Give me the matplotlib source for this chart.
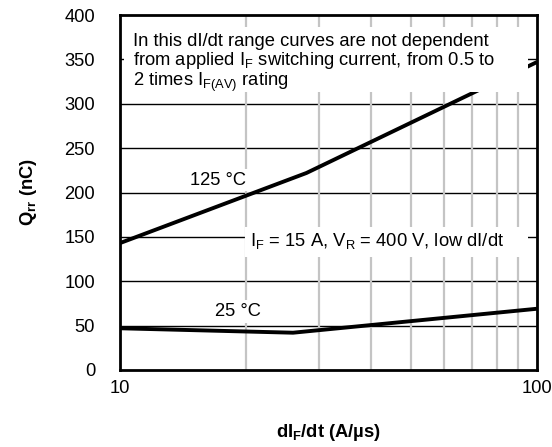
import matplotlib
matplotlib.use('Agg')
import matplotlib.pyplot as plt
from matplotlib.patches import Rectangle

plt.rcParams['font.family'] = ['Liberation Sans', 'DejaVu Sans']

# данные кривых Qrr(dI/dt)
x_125 = [10, 28, 100]
y_125 = [143, 222, 347]
x_25 = [10, 26, 100]
y_25 = [47, 42, 69]

y_ticks = [0, 50, 100, 150, 200, 250, 300, 350, 400]
x_grid = [20, 30, 40, 50, 60, 70, 80, 90]

fig = plt.figure(figsize=(5.52, 4.47), dpi=100)
ax = fig.add_axes([0.2174, 0.1723, 0.7554, 0.7941])

ax.set_xscale('log')
ax.set_xlim(10, 100)
ax.set_ylim(0, 400)

# сетка: горизонтальные чёрные, вертикальные серые
for v in y_ticks[1:-1]:
    ax.axhline(v, color='black', lw=1.0, zorder=1)
for v in x_grid:
    ax.axvline(v, color='#c4c4c4', lw=1.6, zorder=1)

ax.plot(x_125, y_125, color='black', lw=2.8, zorder=3, solid_capstyle='butt')
ax.plot(x_25, y_25, color='black', lw=2.8, zorder=3, solid_capstyle='butt')

# белые подложки под надписями
ax.add_patch(Rectangle((0.01, 0.783), 0.968, 0.183, transform=ax.transAxes,
                       facecolor='white', edgecolor='none', zorder=4))
ax.add_patch(Rectangle((0.30, 0.318), 0.678, 0.085, transform=ax.transAxes,
                       facecolor='white', edgecolor='none', zorder=4))

fs = 13.2
ax.text(0.031, 0.95,
        'In this dI/dt range curves are not dependent\n'
        'from applied I$_\\mathregular{F}$ switching current, from 0.5 to\n'
        '2 times I$_\\mathregular{F(AV)}$ rating',
        transform=ax.transAxes, ha='left', va='top', fontsize=fs,
        linespacing=1.0, zorder=5)
ax.text(0.312, 0.362,
        'I$_\\mathregular{F}$ = 15 A, V$_\\mathregular{R}$ = 400 V, low dI/dt',
        transform=ax.transAxes, ha='left', va='center', fontsize=fs, zorder=5)
ax.text(0.235, 0.535, '125 °C', transform=ax.transAxes, ha='center', va='center',
        fontsize=fs, zorder=5,
        bbox=dict(facecolor='white', edgecolor='none', pad=2))
ax.text(0.283, 0.165, '25 °C', transform=ax.transAxes, ha='center', va='center',
        fontsize=fs, zorder=5,
        bbox=dict(facecolor='white', edgecolor='none', pad=2))

ax.set_yticks(y_ticks)
ax.set_xticks([10, 100])
ax.set_xticklabels(['10', '100'])
ax.minorticks_off()
ax.tick_params(axis='both', length=0, labelsize=fs)
ax.tick_params(axis='y', pad=18)
ax.tick_params(axis='x', pad=7)

for s in ax.spines.values():
    s.set_linewidth(2)
    s.set_zorder(6)

ax.set_ylabel('Q$_\\mathregular{rr}$ (nC)', fontsize=fs, fontweight='bold', labelpad=18)
ax.set_xlabel('dI$_\\mathregular{F}$/dt (A/µs)', fontsize=fs, fontweight='bold', labelpad=18)

fig.savefig('out.png', dpi=100)
